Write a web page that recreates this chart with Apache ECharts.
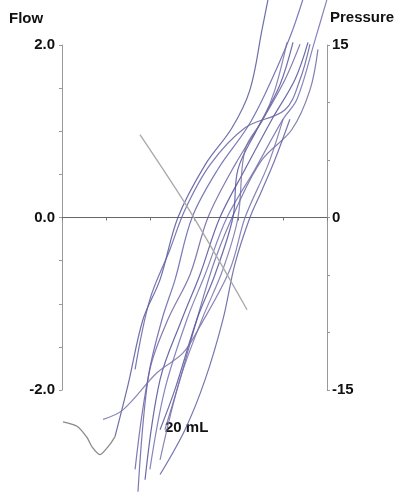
<!DOCTYPE html>
<html><head><meta charset="utf-8">
<script src="https://cdn.jsdelivr.net/npm/echarts@6/dist/echarts.min.js"></script>
<style>html,body{margin:0;padding:0;background:#fff}#c{width:420px;height:492px}</style>
</head><body><div id="c"></div>
<script>
// Volume (mL) vs Flow pairs for each recorded breath
const breath1 = [[93.3,2.53],[90.6,2.18],[85.1,1.48],[77.0,1.04],[64.8,0.61],[52.5,0],[44.4,-0.72],[36.7,-1.18],[29.9,-1.94],[24.0,-2.54]];
const breath2 = [[109.1,2.53],[103.2,2.09],[91.9,1.43],[83.8,1.04],[70.6,0.56],[58.9,0],[51.2,-0.72],[45.3,-1.18],[38.9,-1.88],[34.4,-3.18]];
const breath3 = [[107.8,2.01],[101.0,1.60],[91.0,1.14],[78.3,0.61],[66.1,0],[58.0,-0.66],[48.0,-1.18],[39.8,-1.76],[33.1,-2.92]];
const breath4 = [[111.4,2.03],[105.5,1.60],[95.1,1.14],[82.9,0.56],[71.5,0],[62.5,-0.66],[54.3,-1.18],[44.4,-1.88],[37.6,-3.04]];
const breath5 = [[120.0,2.53],[114.6,2.06],[106.4,1.37],[100.1,1.14],[87.4,0.56],[74.7,0],[64.8,-0.66],[56.6,-1.18],[46.6,-1.99],[39.8,-2.92]];
const breath6 = [[33.1,-1.76],[39.8,-0.95],[48.9,-0.37],[55.7,0.09],[67.0,0.61],[82.9,1.04],[101.0,1.25],[107.8,1.60],[112.3,2.01]];
const breath7 = [[46.6,-2.46],[53.4,-1.88],[61.1,-1.18],[69.3,-0.49],[79.7,0.15],[90.6,0.67],[104.1,1.02],[112.3,1.48],[115.9,1.95]];
const breath8 = [[104.6,2.03],[98.7,1.54],[88.3,1.02],[79.7,0.56],[77.4,0],[69.3,-0.66],[61.1,-1.18],[51.2,-1.99],[44.4,-2.46]];
const breath9 = [[101.9,2.03],[96.4,1.48],[91.0,1.14],[82.9,0.79],[79.7,0],[72.9,-0.60],[63.4,-1.18],[53.4,-1.88],[44.4,-2.81]];
const breath10 = [[103.2,1.14],[96.4,0.67],[90.6,0.32],[85.1,0],[78.3,-0.54],[72.9,-1.18],[64.8,-1.88],[55.7,-2.46],[44.4,-2.98]];
const breath11 = [[18.6,-2.34],[27.6,-2.23],[43.0,-1.80],[54.8,-1.57],[62.5,-1.26],[76.1,-0.60],[82.9,0],[93.3,0.61],[100.1,1.14]];
const artifact = [[0.45,-2.37],[6.8,-2.42],[11.3,-2.55],[13.6,-2.66],[17.2,-2.75],[21.7,-2.63],[24.0,-2.54]];
const crossLine = [[35.3,0.96],[58.0,0.07],[83.8,-1.07]];
const flowTicks = ['-2.0','0.0','2.0'];
const pressureTicks = ['-15','0','15'];

const breaths = [breath1,breath2,breath3,breath4,breath5,breath6,breath7,breath8,breath9,breath10,breath11];
const colors = ['#56569a','#6262aa','#6e62a0','#505096','#7070b0','#6060a2','#6a6aa4','#54549c','#7870a8','#5e5ea0','#7670aa'];

const font = {fontFamily:'Liberation Sans, Arial, sans-serif', fontWeight:'bold', fontSize:15, color:'#111'};

const series = breaths.map((d,i)=>({
  type:'line', data:d, smooth:0.35, symbol:'none', clip:false, yAxisIndex:0,
  lineStyle:{color:colors[i], width:1.2, opacity:0.85}, silent:true
}));
series.push({type:'line', data:artifact, smooth:0.2, symbol:'none', clip:false,
  lineStyle:{color:'#8a8a8a', width:1.3}, silent:true});
series.push({type:'line', data:crossLine, smooth:0.3, symbol:'none', clip:false,
  lineStyle:{color:'#a8a8a8', width:1.3}, silent:true});

const chart = echarts.init(document.getElementById('c'), null, {renderer:'canvas'});
chart.setOption({
  animation:false,
  backgroundColor:'#fff',
  grid:{left:62, right:93, top:45, bottom:102},
  xAxis:{type:'value', min:0, max:120, interval:20,
    axisLine:{onZero:true, lineStyle:{color:'#666', width:1}},
    axisTick:{show:true, length:3, lineStyle:{color:'#777'}},
    axisLabel:{show:false}, splitLine:{show:false}},
  yAxis:[
    {type:'value', min:-2, max:2, interval:0.5, position:'left',
      axisLine:{show:true, lineStyle:{color:'#999'}},
      axisTick:{show:true, length:3, lineStyle:{color:'#999'}},
      axisLabel:{margin:7, ...font, formatter:v=>{const s=v.toFixed(1); return flowTicks.includes(s)?s:'';}},
      splitLine:{show:false}},
    {type:'value', min:-15, max:15, interval:5, position:'right',
      axisLine:{show:true, lineStyle:{color:'#999'}},
      axisTick:{show:true, length:3, lineStyle:{color:'#999'}},
      axisLabel:{margin:5, ...font, formatter:v=>{const s=String(v); return pressureTicks.includes(s)?s:'';}},
      splitLine:{show:false}}
  ],
  graphic:[
    {type:'text', left:9, top:11, style:{text:'Flow', font:'bold 15px Liberation Sans', fill:'#111'}},
    {type:'text', left:330, top:10, style:{text:'Pressure', font:'bold 15px Liberation Sans', fill:'#111'}},
    {type:'text', left:165, top:420, style:{text:'20 mL', font:'bold 15px Liberation Sans', fill:'#111'}}
  ],
  series:series
});
</script></body></html>
